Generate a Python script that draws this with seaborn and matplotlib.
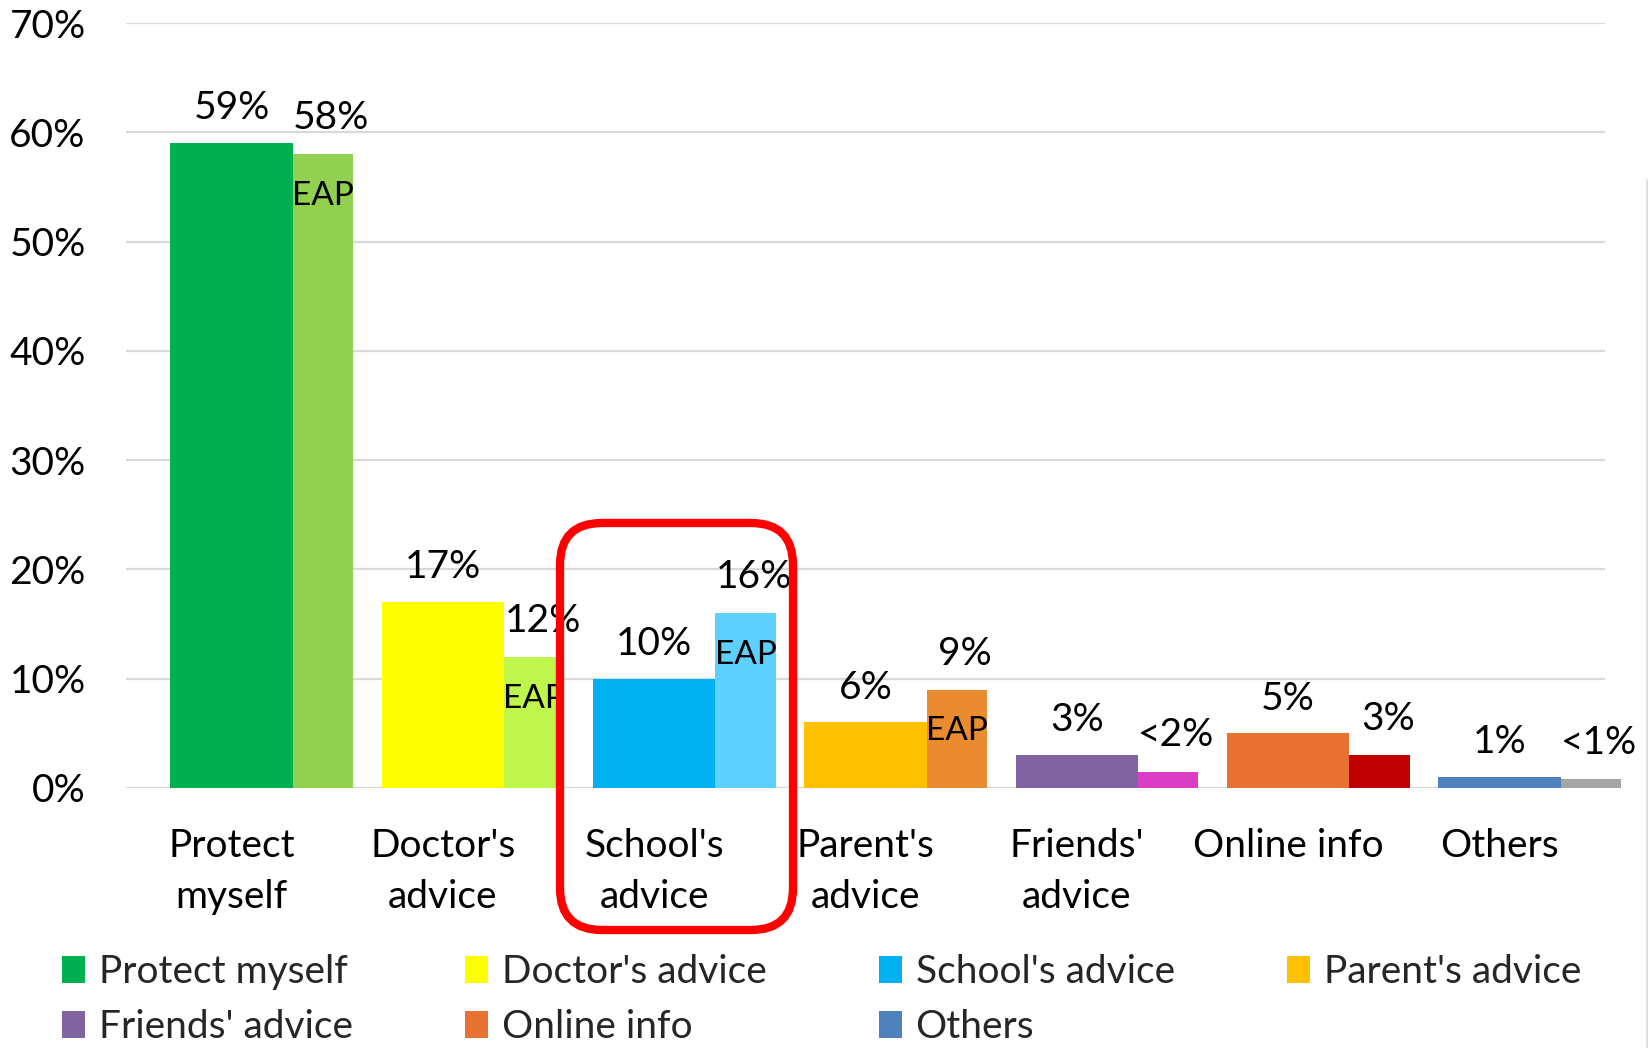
import matplotlib
matplotlib.use("Agg")
import matplotlib.pyplot as plt
import seaborn as sns
import pandas as pd
import numpy as np
from matplotlib.patches import Patch, FancyBboxPatch
from matplotlib.transforms import IdentityTransform
from matplotlib.lines import Line2D

# Reasons for wearing a mask: survey share vs. EAP comparison
categories = ["Protect myself", "Doctor's advice", "School's advice", "Parent's advice",
              "Friends' advice", "Online info", "Others"]
tick_labels = ["Protect\nmyself", "Doctor's\nadvice", "School's\nadvice", "Parent's\nadvice",
               "Friends'\nadvice", "Online info", "Others"]
survey_values = [59, 17, 10, 6, 3, 5, 1]
survey_labels = ["59%", "17%", "10%", "6%", "3%", "5%", "1%"]
eap_values = [58, 12, 16, 9, 1.5, 3, 0.8]
eap_labels = ["58%", "12%", "16%", "9%", "<2%", "3%", "<1%"]
eap_tagged = [True, True, True, True, False, False, False]

survey_colors = ["#00B050", "#FFFF00", "#00B0F0", "#FFC000", "#8064A2", "#E97132", "#4F81BD"]
eap_colors = ["#92D050", "#BEF64C", "#5DD0FF", "#E98B2E", "#D93EC4", "#C00000", "#A5A5A5"]

sns.set_theme(style="white")
plt.rcParams["font.family"] = ["Lato", "DejaVu Sans"]

W, H, DPI = 1650, 1048, 100
fig = plt.figure(figsize=(W / DPI, H / DPI), dpi=DPI)
ax = fig.add_axes([126 / W, 1 - 788 / H, (1605 - 126) / W, (788 - 23) / H])

df = pd.DataFrame({"category": categories, "share": survey_values})
main_w = 0.58
eap_w = 0.285
sns.barplot(data=df, x="category", y="share", hue="category", palette=survey_colors,
            width=main_w, dodge=False, legend=False, saturation=1, ax=ax)

x = np.arange(len(categories))
eap_x = x + main_w / 2 + eap_w / 2
eap_bars = ax.bar(eap_x, eap_values, width=eap_w, color=eap_colors, linewidth=0, zorder=3)
for b in eap_bars:
    b.set_clip_on(False)
for p in ax.patches:
    p.set_linewidth(0)

fs = 28
# value labels above bars
for xi, v, lab in zip(x, survey_values, survey_labels):
    ax.annotate(lab, (xi, v), xytext=(0, 25), textcoords="offset points",
                ha="center", va="center", fontsize=fs, color="black")
for xi, v, lab, tag in zip(eap_x, eap_values, eap_labels, eap_tagged):
    ax.annotate(lab, (xi, v), xytext=(6, 26), textcoords="offset points",
                ha="center", va="center", fontsize=fs, color="black", zorder=5)
    if tag:
        ax.annotate("EAP", (xi, v), xytext=(0, -30), textcoords="offset points",
                    ha="center", va="center", fontsize=24, color="black", zorder=5)

ax.set_ylim(0, 70)
ax.set_xlim(-0.5, len(categories) - 0.5)
ax.set_yticks(np.arange(0, 71, 10))
ax.set_yticklabels([f"{t}%" for t in range(0, 71, 10)])
ax.set_xticks(x)
ax.set_xticklabels(tick_labels)
ax.set_xlabel("")
ax.set_ylabel("")
ax.tick_params(axis="y", length=0, pad=29, labelsize=fs, labelcolor="black")
ax.tick_params(axis="x", length=0, pad=29, labelsize=fs, labelcolor="black")
for lbl in ax.get_xticklabels():
    lbl.set_linespacing(1.5)

ax.yaxis.grid(True, color="#D9D9D9", linewidth=1.6)
ax.set_axisbelow(True)
for s in ax.spines.values():
    s.set_visible(False)

# legend, filled column-wise so it reads row by row
order = [0, 4, 1, 5, 2, 6, 3]
handles = [Patch(facecolor=survey_colors[i], edgecolor="none") for i in order]
labels = [categories[i] for i in order]
fig.legend(handles, labels, loc="upper left", bbox_to_anchor=(62 / W, 1 - 954 / H),
           ncol=4, frameon=False, fontsize=fs, handlelength=0.6, handleheight=0.7,
           handletextpad=0.35, columnspacing=2.88, labelspacing=0.5, borderpad=0,
           borderaxespad=0)

# highlight box around the school category
box = FancyBboxPatch((560, H - 930), 233, 407,
                     boxstyle="round,pad=0,rounding_size=42",
                     transform=IdentityTransform(), facecolor="none",
                     edgecolor="#FF0000", linewidth=6, zorder=10)
fig.add_artist(box)

# faint frame edge on the right
fig.add_artist(Line2D([1647, 1647], [0, H - 180], transform=IdentityTransform(),
                      color="#E0E0E0", linewidth=1.5))

fig.savefig("out.png", dpi=DPI)
